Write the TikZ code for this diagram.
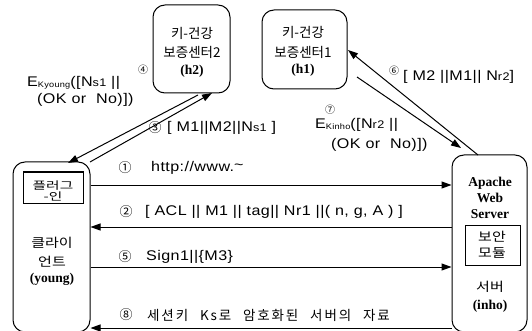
\documentclass[tikz,border=0pt]{standalone}
\usepackage{fontspec}
\setmainfont{Liberation Sans}
\newfontfamily\kr{Noto Sans CJK KR}
\newfontfamily\krwide{Noto Sans CJK KR}[LetterSpace=14,WordSpace=2.4]
\newfontfamily\krstretch{Noto Sans CJK KR}[FakeStretch=1.2]
\newfontfamily\krflat{Noto Sans CJK KR}[FakeStretch=1.4]
\newfontfamily\msgf{Liberation Sans}[FakeStretch=1.15,LetterSpace=3]
\newfontfamily\tnr{Liberation Serif}
\usetikzlibrary{arrows.meta}
\begin{document}
\begin{tikzpicture}[x=1pt,y=-1pt,
  party/.style={draw,line width=1pt,rounded corners=12pt,inner sep=0pt},
  inner/.style={draw,line width=1pt,inner sep=0pt},
  msg/.style={line width=1pt,-{Triangle[length=10pt,width=7pt]}},
  lbl/.style={inner sep=0pt,anchor=west,font=\msgf\fontsize{14}{16}\selectfont},
  num/.style={inner sep=0pt,font=\kr\fontsize{13}{14}\selectfont},
  smallnum/.style={inner sep=0pt,font=\kr\fontsize{10}{11}\selectfont},
  hang/.style={inner sep=0pt,font=\kr\fontsize{13.5}{14}\selectfont},
  hangw/.style={inner sep=0pt,font=\krstretch\fontsize{12.5}{13}\selectfont},
  hangf/.style={inner sep=0pt,font=\krflat\fontsize{10.5}{11}\selectfont},
  bold/.style={inner sep=0pt,font=\tnr\bfseries\fontsize{13.5}{14}\selectfont}]
\useasboundingbox (0,0) rectangle (532,331);
\begin{scope}
\clip (0,0) rectangle (532,331);
% parties
\node[party,minimum width=77pt,minimum height=88pt] (h2) at (191.5,49) {};
\node[party,minimum width=85pt,minimum height=79pt] (h1) at (304.5,49.5) {};
\node[party,minimum width=77pt,minimum height=170pt] (client) at (51.5,247) {};
\node[party,minimum width=75pt,minimum height=177pt] (server) at (489.5,243.5) {};
\node[inner,minimum width=60pt,minimum height=31pt] (plugin) at (53,187.5) {};
\node[inner,minimum width=55pt,minimum height=40pt] (secmod) at (492.5,245) {};
\end{scope}

% box texts
\node[hang] (h2a) at (192,33) {키-건강};
\node[hang] (h2b) at (192,52) {보증센터2};
\node[bold] (h2c) at (192,71) {(h2)};
\node[hang] (h1a) at (303,32) {키-건강};
\node[hang] (h1b) at (303,52) {보증센터1};
\node[bold] (h1c) at (303,70) {(h1)};
\node[hangf] (pl1) at (53,186) {플러그};
\node[hangf] (pl2) at (53,196.5) {-인};
\node[hangw] (cl1) at (52,243) {클라이};
\node[hangw] (cl2) at (52,262) {언트};
\node[bold] (cl3) at (52,279) {(young)};
\node[bold] (sv1) at (490,183) {Apache};
\node[bold] (sv2) at (490,198) {Web};
\node[bold] (sv3) at (490,214) {Server};
\node[hangw] (sm1) at (492,237) {보안};
\node[hangw] (sm2) at (492,253) {모듈};
\node[hangw] (sv4) at (490,287) {서버};
\node[bold] (sv5) at (490,306) {(inho)};

% horizontal messages
\coordinate (y1) at (0,185);
\coordinate (y2) at (0,227);
\coordinate (y5) at (0,267);
\coordinate (y8) at (0,328);
\draw[msg] (client.east |- y1) -- (server.west |- y1);
\draw[msg] (server.west |- y2) -- (client.east |- y2);
\draw[msg] (client.east |- y5) -- (server.west |- y5);
\draw[msg] (server.west |- y8) -- (client.east |- y8);

% diagonal messages
\coordinate (c3s) at (90,162);
\coordinate (c3e) at (212,93);
\coordinate (c4s) at (198,95);
\coordinate (c4e) at (68,163);
\coordinate (c6s) at (478,155);
\coordinate (c6e) at (348,50);
\coordinate (c7s) at (357,77);
\coordinate (c7e) at (461,148);
\draw[msg] (c3s) -- (c3e);
\draw[msg] (c4s) -- (c4e);
\draw[msg] (c6s) -- (c6e);
\draw[msg] (c7s) -- (c7e);

% message labels
\node[num] (n1) at (125,168) {①};
\node[lbl] (t1) at (151,168) {http://www.\raisebox{2pt}{\textasciitilde}};
\node[num] (n2) at (126,212) {②};
\node[lbl] (t2) at (145,212) {[ ACL || M1 || tag|| Nr1 ||( n, g, A ) ]};
\node[num] (n5) at (125,257) {⑤};
\node[lbl] (t5) at (146,257) {Sign1||\{M3\}};
\node[num] (n8) at (126,315) {⑧};
\node[lbl,font=\krwide\fontsize{13.5}{15}\selectfont] (t8) at (147,315) {세션키 Ks로 암호화된 서버의 자료};
\node[num] (n3) at (155,128) {③};
\node[lbl] (t3) at (167,128) {[ M1||M2||N{\fontsize{11}{11}\selectfont s1} ]};
\node[smallnum] (n4) at (143,70) {④};
\node[lbl] (t4a) at (27,83) {E\raisebox{-1pt}{\fontsize{8}{9}\selectfont Kyoung}([N{\fontsize{11}{11}\selectfont s1} ||};
\node[lbl] (t4b) at (37,100) {(OK or \ No)])};
\node[smallnum] (n6) at (394,71) {⑥};
\node[lbl] (t6) at (403,77) {[ M2 ||M1|| N{\fontsize{11}{11}\selectfont r2}]};
\node[smallnum] (n7) at (330,110) {⑦};
\node[lbl] (t7a) at (315,125) {E\raisebox{-1pt}{\fontsize{8}{9}\selectfont Kinho}([N{\fontsize{11}{11}\selectfont r2} ||};
\node[lbl] (t7b) at (331,145) {(OK or \ No)])};
\end{tikzpicture}
\end{document}
